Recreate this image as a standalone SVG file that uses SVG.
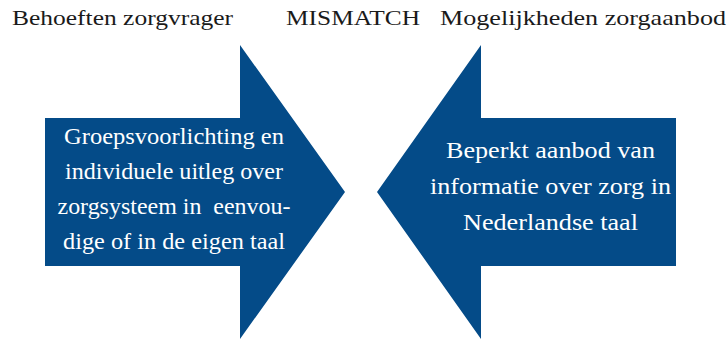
<svg xmlns="http://www.w3.org/2000/svg" width="728" height="339" viewBox="0 0 728 339">
  <style>
    .arrow { fill: #044b88; }
    .head { font-size: 22px; fill: #1a1a1a; }
    .body { font-size: 22.5px; fill: #ffffff; text-anchor: middle; white-space: pre; }
  </style>
  <rect width="728" height="339" fill="#ffffff"/>

  <!-- column headings -->
  <g id="headings" font-family="Liberation Serif">
    <text class="head" x="12" y="25" textLength="221" lengthAdjust="spacingAndGlyphs">Behoeften zorgvrager</text>
    <text class="head" x="286" y="25" textLength="134" lengthAdjust="spacingAndGlyphs">MISMATCH</text>
    <text class="head" x="440" y="25" textLength="286" lengthAdjust="spacingAndGlyphs">Mogelijkheden zorgaanbod</text>
  </g>

  <!-- right-pointing arrow: needs of care seekers -->
  <g id="node-needs" font-family="Liberation Serif">
    <path class="arrow" d="M45 118 H240 V45 L345 192 L240 339 V266 H45 Z"/>
    <text class="body" x="174" y="143.5" textLength="220" lengthAdjust="spacingAndGlyphs">Groepsvoorlichting en</text>
    <text class="body" x="174" y="178.5" textLength="218" lengthAdjust="spacingAndGlyphs">individuele uitleg over</text>
    <text class="body" x="174" y="213.5" textLength="233" lengthAdjust="spacingAndGlyphs">zorgsysteem in  eenvou-</text>
    <text class="body" x="174" y="248.5" textLength="222" lengthAdjust="spacingAndGlyphs">dige of in de eigen taal</text>
  </g>

  <!-- left-pointing arrow: care supply -->
  <g id="node-supply" font-family="Liberation Serif">
    <path class="arrow" d="M676 118 H481 V45 L377 192 L481 339 V266 H676 Z"/>
    <text class="body" x="550.5" y="158" textLength="209" lengthAdjust="spacingAndGlyphs">Beperkt aanbod van</text>
    <text class="body" x="550.5" y="194" textLength="241" lengthAdjust="spacingAndGlyphs">informatie over zorg in</text>
    <text class="body" x="550.5" y="230" textLength="175" lengthAdjust="spacingAndGlyphs">Nederlandse taal</text>
  </g>

  <g id="connectors"/>
</svg>
